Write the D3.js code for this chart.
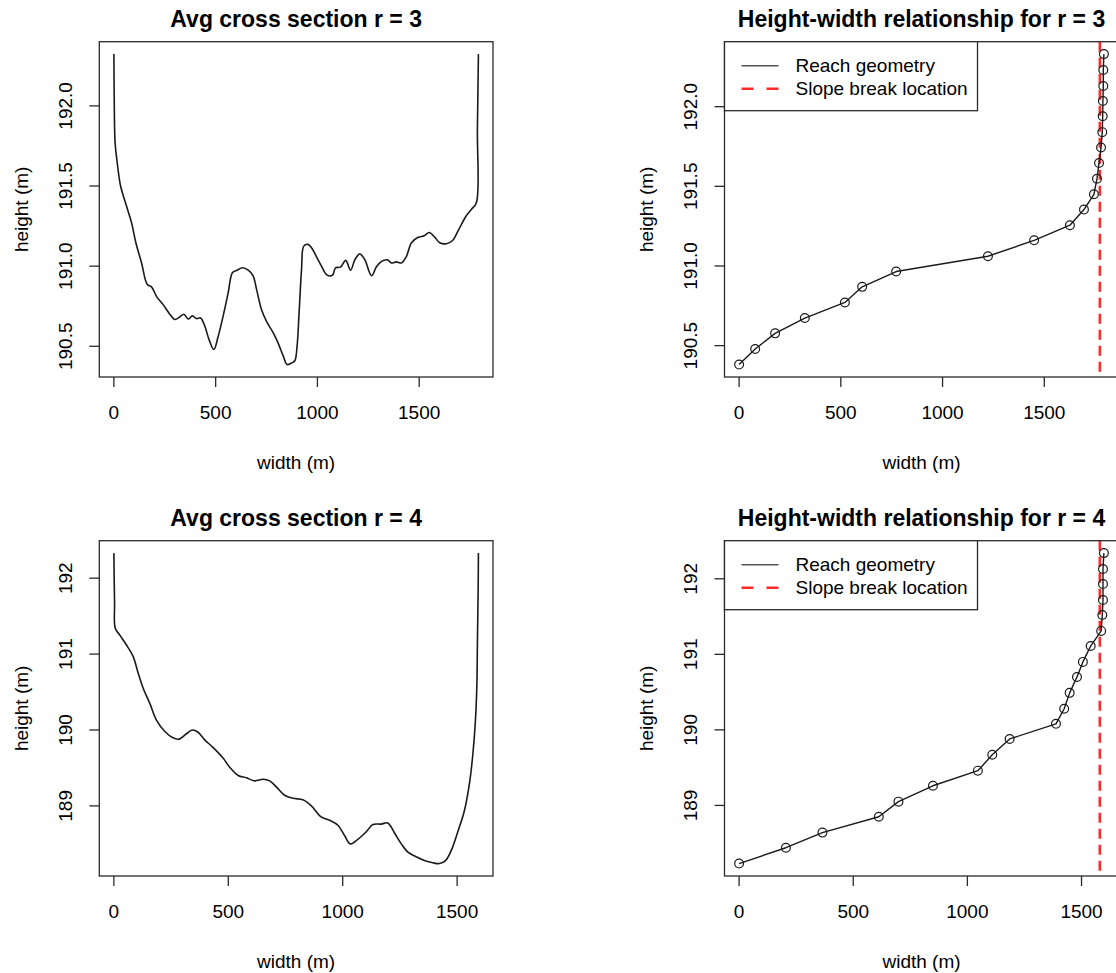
<!DOCTYPE html>
<html><head><meta charset="utf-8">
<script src="https://cdn.jsdelivr.net/npm/d3@7"></script>
<style>
body{margin:0;background:#fff}
svg{display:block}
text{font-family:"Liberation Sans",Arial,Helvetica,sans-serif;fill:#000}
</style>
</head><body>
<svg id="c" width="1116" height="973"></svg>
<script>
// ---------- data ----------
// Avg cross section r = 3
const csWidth3  = [0,1.6,6,16,33,62,87,108,136,164,185,210,242,275,300,324,344,365,386,406,426,447,468,491,512,537,561,583,606,632,660,684,701,725,750,783,807,832,851,873,889,900,910,922,933,954,971,995,1020,1048,1074,1089,1113,1139,1163,1184,1208,1233,1266,1290,1315,1343,1364,1388,1413,1437,1462,1495,1525,1549,1577,1601,1634,1664,1691,1729,1757,1781,1786,1791];
const csHeight3 = [192.323,192.06,191.77,191.65,191.50,191.375,191.27,191.146,191.02,190.886,190.871,190.81,190.76,190.70,190.667,190.684,190.70,190.67,190.69,190.673,190.677,190.625,190.54,190.48,190.56,190.69,190.83,190.96,190.975,190.99,190.975,190.94,190.855,190.73,190.656,190.584,190.52,190.44,190.386,190.396,190.41,190.50,190.71,190.98,191.125,191.136,191.115,191.06,191.0,190.944,190.944,190.99,190.994,191.036,190.975,191.04,191.077,191.04,190.94,190.996,191.03,191.04,191.02,191.027,191.02,191.06,191.146,191.18,191.19,191.21,191.18,191.146,191.14,191.16,191.22,191.31,191.355,191.396,191.854,192.323];

// Height-width relationship r = 3
const hwWidth3  = [0,79,177,323,520,605,772,1223,1450,1626,1695,1744,1759,1769,1779,1785,1787,1788,1790,1790,1793];
const hwHeight3 = [190.381,190.479,190.577,190.673,190.771,190.869,190.965,191.061,191.161,191.256,191.354,191.45,191.548,191.646,191.744,191.84,191.94,192.036,192.13,192.23,192.33];
const breakWidth3 = 1773;

// Avg cross section r = 4
const csWidth4  = [0,3,6,26,55,84,106,128,157,186,223,256,285,317,343,368,397,433,477,506,543,579,615,652,681,710,746,783,826,863,906,943,979,1008,1033,1066,1103,1132,1168,1197,1227,1256,1285,1321,1357,1394,1423,1449,1474,1503,1532,1554,1569,1580,1586,1589,1592,1593];
const csHeight4 = [192.33,191.67,191.34,191.25,191.12,190.97,190.75,190.55,190.35,190.13,189.98,189.90,189.88,189.95,190.0,189.97,189.87,189.77,189.63,189.51,189.40,189.37,189.33,189.35,189.33,189.25,189.14,189.10,189.08,189.0,188.855,188.81,188.745,188.61,188.50,188.56,188.66,188.755,188.76,188.776,188.64,188.50,188.39,188.33,188.28,188.25,188.24,188.28,188.41,188.66,188.94,189.30,189.69,190.13,190.57,191.23,191.89,192.33];

// Height-width relationship r = 4
const hwWidth4  = [0,205,365,612,698,849,1046,1109,1185,1388,1424,1448,1480,1506,1540,1586,1591,1594,1594,1594,1598];
const hwHeight4 = [188.23,188.44,188.64,188.85,189.05,189.26,189.46,189.67,189.88,190.08,190.28,190.49,190.70,190.90,191.11,191.31,191.52,191.72,191.93,192.13,192.34];
const breakWidth4 = 1580;

// tick values / labels
const xTickVals = [0,500,1000,1500];
const yTicksTop = [190.5,191.0,191.5,192.0];
const yTickLabelsTop = ["190.5","191.0","191.5","192.0"];
const yTicksBot = [189,190,191,192];
const yTickLabelsBot = ["189","190","191","192"];
const legendLabels = ["Reach geometry","Slope break location"];
const titles = ["Avg cross section r = 3","Height-width relationship for r = 3","Avg cross section r = 4","Height-width relationship for r = 4"];
const xLabel = "width (m)", yLabel = "height (m)";

// ---------- layout ----------
const boxesX = [[99.3,493],[724.5,1118.5]];
const boxesY = [[41.7,377],[540.7,876]];

const panels = [
  {t:titles[0], x:csWidth3, y:csHeight3, kind:"cs", col:0,row:0, yt:yTicksTop, ytl:yTickLabelsTop},
  {t:titles[1], x:hwWidth3, y:hwHeight3, kind:"hw", col:1,row:0, yt:yTicksTop, ytl:yTickLabelsTop, brk:breakWidth3},
  {t:titles[2], x:csWidth4, y:csHeight4, kind:"cs", col:0,row:1, yt:yTicksBot, ytl:yTickLabelsBot},
  {t:titles[3], x:hwWidth4, y:hwHeight4, kind:"hw", col:1,row:1, yt:yTicksBot, ytl:yTickLabelsBot, brk:breakWidth4},
];

const svg = d3.select("#c");
const FS = 19, FT = 23, TL = 10;
const AX = "#2a2a2a";

function ext(a){ const [lo,hi]=d3.extent(a); const d=(hi-lo)*0.04; return [lo-d,hi+d]; }

panels.forEach(p=>{
  const [x0,x1]=boxesX[p.col], [y0,y1]=boxesY[p.row];
  const xs=d3.scaleLinear().domain(ext(p.x)).range([x0,x1]);
  const ys=d3.scaleLinear().domain(ext(p.y)).range([y1,y0]);
  const g=svg.append("g");
  const clipId="clip"+p.col+p.row;
  g.append("clipPath").attr("id",clipId).append("rect").attr("x",x0).attr("y",y0).attr("width",x1-x0).attr("height",y1-y0);
  const pts=p.x.map((v,i)=>[v,p.y[i]]);

  if(p.kind==="hw"){
    g.append("line").attr("clip-path",`url(#${clipId})`)
      .attr("x1",xs(p.brk)).attr("x2",xs(p.brk)).attr("y1",y0).attr("y2",y1)
      .attr("stroke","#ff2b2b").attr("stroke-width",2.6).attr("stroke-dasharray","10,6");
    const line=d3.line().x(d=>xs(d[0])).y(d=>ys(d[1]));
    g.append("path").attr("d",line(pts)).attr("fill","none").attr("stroke","#1a1a1a").attr("stroke-width",1.4).attr("stroke-linejoin","round");
    g.selectAll("circle").data(pts).join("circle")
      .attr("cx",d=>xs(d[0])).attr("cy",d=>ys(d[1])).attr("r",4.4)
      .attr("fill","none").attr("stroke","#1a1a1a").attr("stroke-width",1.2);
  } else {
    const line=d3.line().x(d=>xs(d[0])).y(d=>ys(d[1])).curve(d3.curveCatmullRom.alpha(0.5));
    g.append("path").attr("d",line(pts)).attr("fill","none").attr("stroke","#1a1a1a").attr("stroke-width",1.6).attr("stroke-linejoin","round");
  }
  // box
  g.append("rect").attr("x",x0).attr("y",y0).attr("width",x1-x0).attr("height",y1-y0)
    .attr("fill","none").attr("stroke",AX).attr("stroke-width",1.3);

  // x axis
  const xa=svg.append("g").attr("transform",`translate(0,${y1})`);
  xTickVals.forEach(v=>{
    xa.append("line").attr("x1",xs(v)).attr("x2",xs(v)).attr("y1",0).attr("y2",TL).attr("stroke",AX).attr("stroke-width",1.3);
    xa.append("text").attr("x",xs(v)).attr("y",35).attr("text-anchor","middle").attr("dominant-baseline","central").attr("font-size",FS).text(String(v));
  });
  // y axis
  p.yt.forEach((v,i)=>{
    svg.append("line").attr("x1",x0-TL).attr("x2",x0).attr("y1",ys(v)).attr("y2",ys(v)).attr("stroke",AX).attr("stroke-width",1.3);
    svg.append("text").attr("transform",`translate(${x0-34},${ys(v)}) rotate(-90)`)
      .attr("text-anchor","middle").attr("dominant-baseline","central").attr("font-size",FS).text(p.ytl[i]);
  });
  // labels
  svg.append("text").attr("x",(x0+x1)/2).attr("y",y1+85).attr("text-anchor","middle").attr("dominant-baseline","central").attr("font-size",FS).text(xLabel);
  svg.append("text").attr("transform",`translate(${x0-78},${(y0+y1)/2}) rotate(-90)`).attr("text-anchor","middle").attr("dominant-baseline","central").attr("font-size",FS).text(yLabel);
  svg.append("text").attr("x",(x0+x1)/2).attr("y",y0-23).attr("text-anchor","middle").attr("dominant-baseline","central").attr("font-size",FT).attr("font-weight","bold").text(p.t);

  // legend
  if(p.kind==="hw"){
    const lg=svg.append("g");
    lg.append("rect").attr("x",x0).attr("y",y0).attr("width",253).attr("height",69).attr("fill","#fff").attr("stroke",AX).attr("stroke-width",1.3);
    const rows=[y0+24,y0+47];
    lg.append("line").attr("x1",x0+17).attr("x2",x0+54).attr("y1",rows[0]).attr("y2",rows[0]).attr("stroke","#555").attr("stroke-width",1.6);
    lg.append("line").attr("x1",x0+17).attr("x2",x0+54).attr("y1",rows[1]).attr("y2",rows[1]).attr("stroke","#ff2b2b").attr("stroke-width",2.6).attr("stroke-dasharray","12,13");
    legendLabels.forEach((s,i)=>lg.append("text").attr("x",x0+71).attr("y",rows[i]).attr("dominant-baseline","central").attr("font-size",FS).attr("fill","#222").text(s));
  }
});
</script>
</body></html>
